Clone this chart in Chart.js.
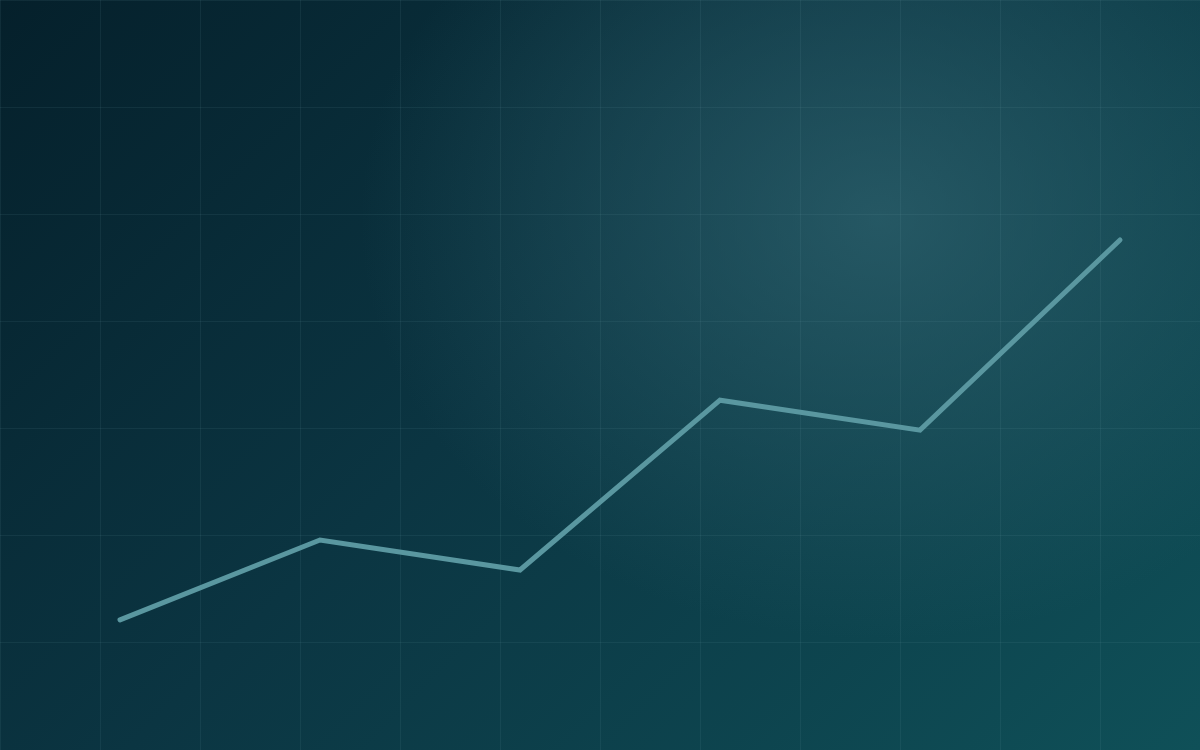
<!DOCTYPE html>
<html>
<head>
<meta charset="utf-8">
<script src="https://cdn.jsdelivr.net/npm/chart.js@4"></script>
<style>
    html, body {
        margin: 0;
        padding: 0;
        width: 1200px;
        height: 750px;
        overflow: hidden;
    }
    body {
        background:
            radial-gradient(ellipse 520px 420px at 880px 220px, rgba(48, 100, 112, 0.7), rgba(48, 100, 112, 0) 100%),
            linear-gradient(135deg, #05202b 0%, #0b3542 45%, #0f5058 100%);
    }
    #wrap {
        position: absolute;
        left: 0;
        top: 0;
        width: 1200px;
        height: 750px;
    }
</style>
</head>
<body>
<div id="wrap"><canvas id="trend"></canvas></div>
<script>
// Data (x in grid columns, y in grid units of 20)
const xPositions = [1.2, 3.2, 5.2, 7.2, 9.2, 11.2];
const values = [24.3, 39.2, 33.6, 65.3, 59.7, 95.2];

const points = xPositions.map((x, i) => ({ x: x, y: values[i] }));

new Chart(document.getElementById("trend"), {
    type: "line",
    data: {
        datasets: [
            {
                label: "Trend",
                data: points,
                borderColor: "#5a97a0",
                borderWidth: 5,
                borderCapStyle: "round",
                borderJoinStyle: "miter",
                pointRadius: 0,
                tension: 0,
                fill: false,
            },
        ],
    },
    options: {
        responsive: true,
        maintainAspectRatio: false,
        animation: false,
        layout: { padding: 0 },
        plugins: {
            legend: { display: false },
            tooltip: { enabled: false },
        },
        scales: {
            x: {
                type: "linear",
                min: 0,
                max: 12,
                ticks: { display: false, stepSize: 1 },
                border: { display: false },
                grid: {
                    color: "rgba(120, 170, 180, 0.1)",
                    lineWidth: 1,
                    drawTicks: false,
                },
            },
            y: {
                min: 0,
                max: 140,
                ticks: { display: false, stepSize: 20 },
                border: { display: false },
                grid: {
                    color: "rgba(120, 170, 180, 0.1)",
                    lineWidth: 1,
                    drawTicks: false,
                },
            },
        },
    },
});
</script>
</body>
</html>
